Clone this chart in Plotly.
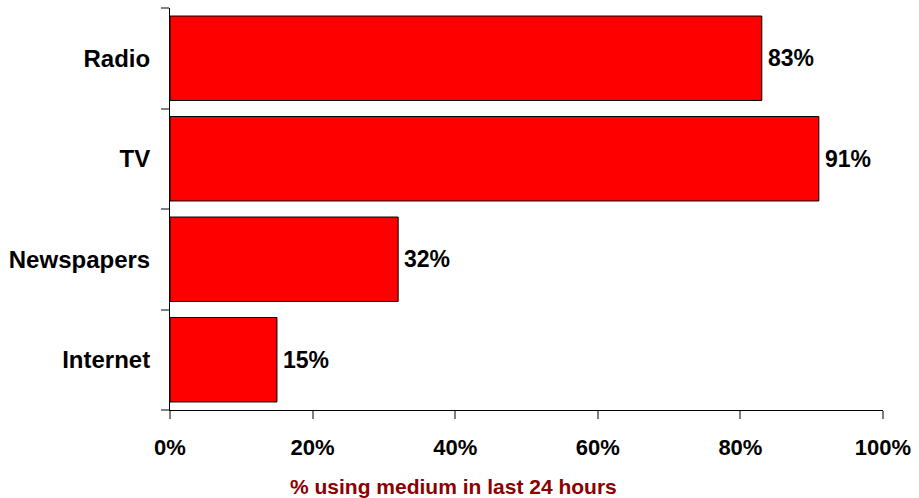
import plotly.graph_objects as go

# Media usage in the last 24 hours
media = ["Radio", "TV", "Newspapers", "Internet"]
usage_pct = [83, 91, 32, 15]
x_ticks = [0, 20, 40, 60, 80, 100]
x_tick_labels = ["0%", "20%", "40%", "60%", "80%", "100%"]

positions = list(range(len(media)))
bold_font = "Liberation Sans, Arial"

fig = go.Figure(
    go.Bar(
        x=usage_pct,
        y=positions,
        orientation="h",
        marker=dict(color="#FF0000", line=dict(color="#000000", width=1)),
        hoverinfo="skip",
    )
)

# value labels just past the end of each bar
for pos, val in zip(positions, usage_pct):
    fig.add_annotation(
        x=val,
        y=pos,
        text=f"{val}%",
        xanchor="left",
        yanchor="middle",
        xshift=4,
        showarrow=False,
        font=dict(family=bold_font, size=23, color="#000000", weight="bold"),
    )

fig.update_layout(
    width=919,
    height=498,
    margin=dict(l=170, r=36, t=8, b=88),
    paper_bgcolor="white",
    plot_bgcolor="white",
    bargap=0.16,
    showlegend=False,
    font=dict(family=bold_font, color="#000000"),
)

fig.update_xaxes(
    range=[0, 100],
    tickvals=x_ticks,
    ticktext=x_tick_labels,
    tickfont=dict(size=22, weight="bold"),
    ticks="outside",
    ticklen=8,
    tickcolor="#808080",
    tickwidth=2,
    showline=True,
    linecolor="#000000",
    linewidth=1,
    showgrid=False,
    zeroline=False,
    ticklabelstandoff=10,
)

fig.update_yaxes(
    range=[len(media) - 0.5, -0.5],
    tickvals=positions,
    ticktext=media,
    tickfont=dict(size=24, weight="bold"),
    ticks="",
    showline=True,
    linecolor="#000000",
    linewidth=1,
    showgrid=False,
    zeroline=False,
    ticklabelstandoff=14,
    minor=dict(
        tickvals=[p - 0.5 for p in positions] + [len(media) - 0.5],
        ticks="outside",
        ticklen=8,
        tickcolor="#808080",
        tickwidth=2,
        showgrid=False,
    ),
)

fig.add_annotation(
    text="% using medium in last 24 hours",
    xref="paper",
    yref="paper",
    x=0.397,
    y=-0.19,
    xanchor="center",
    yanchor="middle",
    showarrow=False,
    font=dict(family=bold_font, size=21, color="#8B0000", weight="bold"),
)

fig.write_html("out.html")
